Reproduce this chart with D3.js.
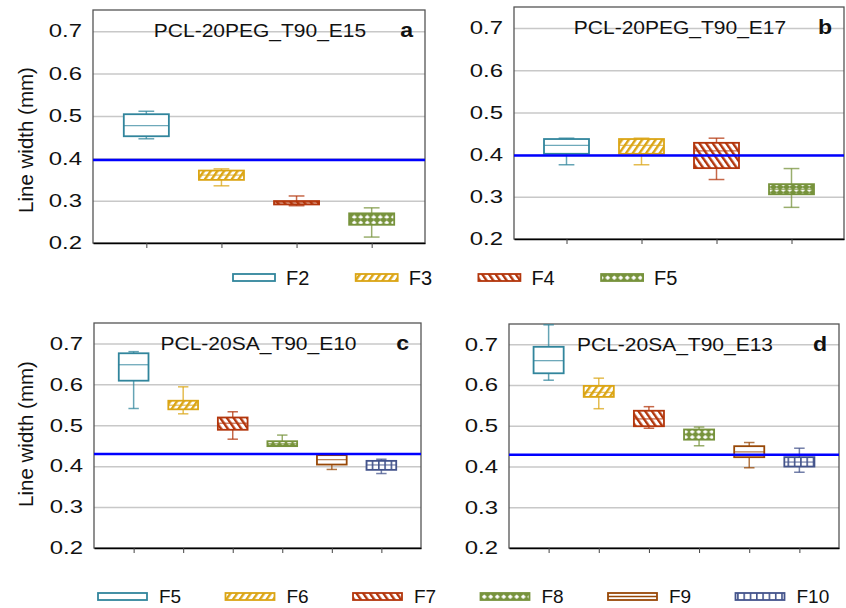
<!DOCTYPE html>
<html>
<head>
<meta charset="utf-8">
<script src="https://cdn.jsdelivr.net/npm/d3@7"></script>
<style>
  body { margin: 0; background: #fff; }
  svg { display: block; font-family: "Liberation Sans", Arial, sans-serif; }
</style>
</head>
<body>
<div id="chart"></div>
<script>
// groups (nozzle settings) for the two rows
const topGroups = ["F2", "F3", "F4", "F5"]
const bottomGroups = ["F5", "F6", "F7", "F8", "F9", "F10"]

// [whisker low, q1, median, q3, whisker high]
const statsA = [
  [0.446, 0.452, 0.477, 0.504, 0.511],
  [0.335, 0.349, 0.360, 0.371, 0.375],
  [0.288, 0.291, 0.295, 0.299, 0.311],
  [0.214, 0.243, 0.257, 0.270, 0.283]
]
const statsB = [
  [0.376, 0.402, 0.422, 0.437, 0.439],
  [0.376, 0.402, 0.422, 0.437, 0.439],
  [0.341, 0.368, 0.409, 0.428, 0.439],
  [0.275, 0.306, 0.318, 0.330, 0.367]
]
const statsC = [
  [0.541, 0.609, 0.648, 0.676, 0.680],
  [0.528, 0.539, 0.549, 0.560, 0.594],
  [0.466, 0.489, 0.505, 0.519, 0.533],
  [0.449, 0.449, 0.455, 0.461, 0.476],
  [0.392, 0.404, 0.416, 0.427, 0.428],
  [0.382, 0.391, 0.403, 0.413, 0.417]
]
const statsD = [
  [0.612, 0.629, 0.660, 0.694, 0.748],
  [0.542, 0.571, 0.582, 0.598, 0.617],
  [0.494, 0.499, 0.517, 0.537, 0.547],
  [0.451, 0.466, 0.479, 0.491, 0.497],
  [0.397, 0.423, 0.436, 0.450, 0.459],
  [0.386, 0.400, 0.411, 0.423, 0.445]
]
// target line width (blue line)
const refValues = [0.396, 0.398, 0.430, 0.429]
const titles = ["PCL-20PEG_T90_E15", "PCL-20PEG_T90_E17", "PCL-20SA_T90_E10", "PCL-20SA_T90_E13"]
const letters = ["a", "b", "c", "d"]
const yTicks = [0.2, 0.3, 0.4, 0.5, 0.6, 0.7]

const colors = ["#31859c", "#dba515", "#b3360c", "#77933c", "#984807", "#44548c"]
const fills = ["#fff", "url(#hatchFwd)", "url(#hatchBack)", "url(#dots)", "#fff", "url(#vlines)"]

const W = 846, H = 608
const svg = d3.select("#chart").append("svg")
  .attr("width", W)
  .attr("height", H)

const defs = svg.append("defs")

function stripePattern(id, color, angle) {
  const p = defs.append("pattern")
    .attr("id", id)
    .attr("patternUnits", "userSpaceOnUse")
    .attr("width", 5.5)
    .attr("height", 6)
    .attr("patternTransform", `rotate(${angle})`)
  p.append("rect").attr("width", 5.5).attr("height", 6).attr("fill", "#fff")
  p.append("rect").attr("width", 2.4).attr("height", 6).attr("fill", color)
}
stripePattern("hatchFwd", colors[1], 35)
stripePattern("hatchBack", colors[2], -35)

const dots = defs.append("pattern")
  .attr("id", "dots")
  .attr("patternUnits", "userSpaceOnUse")
  .attr("width", 6.5)
  .attr("height", 5.5)
dots.append("rect").attr("width", 6.5).attr("height", 5.5).attr("fill", colors[3])
dots.append("path").attr("d", "M3.25,0.4 L5.8,2.75 L3.25,5.1 L0.7,2.75Z").attr("fill", "#fff")

const vl = defs.append("pattern")
  .attr("id", "vlines")
  .attr("patternUnits", "userSpaceOnUse")
  .attr("width", 6.3)
  .attr("height", 6)
vl.append("rect").attr("width", 6.3).attr("height", 6).attr("fill", "#fff")
vl.append("rect").attr("width", 1.6).attr("height", 6).attr("fill", colors[5])

function drawPanel(p) {
  const y = d3.scaleLinear().domain([0.2, 0.75]).range([p.y1, p.y0])
  const x = d3.scalePoint().domain(p.groups).range([p.x0, p.x1]).padding(p.pad)
  const bw = x.step() * 0.6
  const g = svg.append("g")

  // gridlines
  g.append("g")
    .attr("transform", `translate(${p.x0},0)`)
    .call(d3.axisLeft(y).tickValues(yTicks.slice(1)).tickSize(-(p.x1 - p.x0)).tickFormat(""))
    .call(s => s.select(".domain").remove())
    .selectAll("line").attr("stroke", "#c8c8c8").attr("stroke-width", 1.5)

  // frame
  g.append("rect")
    .attr("x", p.x0).attr("y", p.y0)
    .attr("width", p.x1 - p.x0).attr("height", p.y1 - p.y0)
    .attr("fill", "none").attr("stroke", "#555").attr("stroke-width", 1.3)

  // y tick labels
  g.append("g")
    .attr("transform", `translate(${p.x0},0)`)
    .call(d3.axisLeft(y).tickValues(yTicks).tickSize(0).tickFormat(d3.format(".1f")))
    .call(s => s.select(".domain").remove())
    .selectAll("text")
    .attr("x", 0)
    .attr("font-size", 18)
    .attr("fill", "#111")
    .attr("font-family", "Liberation Sans, Arial, sans-serif")
    .attr("text-anchor", "end")
    .attr("transform", "translate(-11,0) scale(1.33,1)")

  // x axis
  g.append("g")
    .attr("transform", `translate(0,${p.y1})`)
    .call(d3.axisBottom(x).tickSize(5).tickSizeOuter(0).tickFormat(""))
    .call(s => s.select(".domain").attr("stroke", "#000").attr("stroke-width", 1.3))
    .selectAll("line").attr("stroke", "#444")

  // boxes
  p.stats.forEach((s, i) => {
    const cx = x(p.groups[i])
    const c = colors[i]
    const cap = bw * 0.35
    const bg = g.append("g")
    bg.append("line")
      .attr("x1", cx).attr("x2", cx).attr("y1", y(s[0])).attr("y2", y(s[4]))
      .attr("stroke", c).attr("stroke-opacity", 0.75).attr("stroke-width", 1.5)
    ;[s[0], s[4]].forEach(v => {
      bg.append("line")
        .attr("x1", cx - cap / 2).attr("x2", cx + cap / 2).attr("y1", y(v)).attr("y2", y(v))
        .attr("stroke", c).attr("stroke-opacity", 0.75).attr("stroke-width", 1.5)
    })
    bg.append("rect")
      .attr("x", cx - bw / 2).attr("width", bw)
      .attr("y", y(s[3])).attr("height", y(s[1]) - y(s[3]))
      .attr("fill", fills[i]).attr("stroke", c).attr("stroke-width", 1.8)
    bg.append("line")
      .attr("x1", cx - bw / 2).attr("x2", cx + bw / 2).attr("y1", y(s[2])).attr("y2", y(s[2]))
      .attr("stroke", c).attr("stroke-opacity", 0.7).attr("stroke-width", 1.3)
  })

  // reference line
  g.append("line")
    .attr("x1", p.x0).attr("x2", p.x1)
    .attr("y1", y(p.ref)).attr("y2", y(p.ref))
    .attr("stroke", "#0000ff").attr("stroke-width", 2.5)

  g.append("text")
    .attr("transform", `translate(${(p.x0 + p.x1) / 2 + 1},${p.y0 + 27}) scale(1.2,1)`)
    .attr("text-anchor", "middle")
    .attr("font-size", 17.5)
    .attr("fill", "#111")
    .text(p.title)

  g.append("text")
    .attr("transform", `translate(${p.x1 - 12},${p.y0 + 27}) scale(1.1,1)`)
    .attr("text-anchor", "end")
    .attr("font-size", 21)
    .attr("font-weight", "bold")
    .attr("fill", "#111")
    .text(p.letter)
}

const panels = [
  { x0: 93, x1: 425, y0: 10, y1: 243, pad: 0.71, groups: topGroups, stats: statsA },
  { x0: 514, x1: 844, y0: 7, y1: 239, pad: 0.7, groups: topGroups, stats: statsB },
  { x0: 94, x1: 421, y0: 323, y1: 548, pad: 0.8, groups: bottomGroups, stats: statsC },
  { x0: 509, x1: 839, y0: 324, y1: 548, pad: 0.79, groups: bottomGroups, stats: statsD }
]
panels.forEach((p, i) => {
  p.ref = refValues[i]
  p.title = titles[i]
  p.letter = letters[i]
  drawPanel(p)
})

// y axis titles
;[140, 434].forEach(cy => {
  svg.append("text")
    .attr("transform", `translate(25,${cy}) rotate(-90)`)
    .attr("text-anchor", "middle")
    .attr("dominant-baseline", "central")
    .attr("font-size", 20.5)
    .attr("fill", "#111")
    .text("Line width (mm)")
})

// legends
function legend(groups, x0, step, y, sw, labelOff, fs) {
  groups.forEach((name, i) => {
    const lx = x0 + i * step
    svg.append("rect")
      .attr("x", lx).attr("y", y).attr("width", sw).attr("height", 7)
      .attr("fill", fills[i]).attr("stroke", colors[i]).attr("stroke-width", 1.8)
    if (i == 4) {
      svg.append("line")
        .attr("x1", lx).attr("x2", lx + sw).attr("y1", y + 3.5).attr("y2", y + 3.5)
        .attr("stroke", colors[i]).attr("stroke-width", 1.5)
    }
    svg.append("text")
      .attr("x", lx + labelOff).attr("y", y + 3.5)
      .attr("dominant-baseline", "central")
      .attr("font-size", fs)
      .attr("fill", "#111")
      .text(name)
  })
}
legend(topGroups, 233, 122.7, 274, 42, 53, 20)
legend(bottomGroups, 98, 127.5, 593, 49, 61, 19)
</script>
</body>
</html>
